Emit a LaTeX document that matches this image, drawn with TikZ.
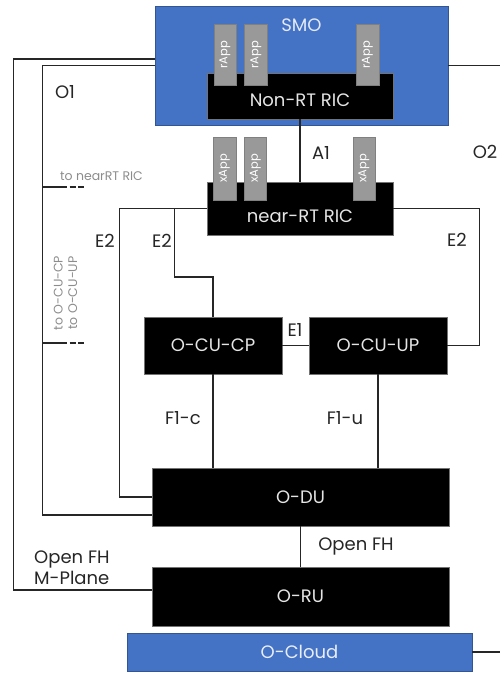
\documentclass[tikz,border=0pt]{standalone}
\usepackage{fontspec}
\setmainfont{Poppins}
\usetikzlibrary{positioning,calc}
\definecolor{oranblue}{HTML}{4472C4}

\begin{document}
\begin{tikzpicture}[x=1pt,y=-1pt,
  blk/.style ={rectangle,draw=black!55,fill=black,text=white!90!black,
               font=\fontsize{18}{21}\selectfont},
  bluebox/.style={rectangle,draw=oranblue!75!black,fill=oranblue,text=white!88!oranblue,
               font=\fontsize{18}{21}\selectfont},
  boxtxt/.style={text=white!90!black,font=\fontsize{18}{21}\selectfont,inner sep=0pt},
  app/.style ={rectangle,draw=black!50,fill=black!40,text=white,inner sep=0pt,
               minimum width=22.5pt,minimum height=61pt,font=\fontsize{11.5}{13}\selectfont},
  lbl/.style ={text=black!85,font=\fontsize{18}{21}\selectfont,inner sep=0pt},
  note/.style={text=black!45,font=\fontsize{12.5}{14.5}\selectfont,inner sep=0pt},
  ln/.style  ={line width=1.3pt,black!85},
  stub/.style={ln,dash pattern=on 24pt off 2.5pt on 6pt off 2.5pt on 6pt}
]
\useasboundingbox (0,0) rectangle (500,673);

\node[bluebox,minimum width=293pt,minimum height=119pt,
      label={[boxtxt,text=white!85!oranblue,yshift=40.5pt]center:SMO}] (smo) at (301.5,65.5) {};
\node[blk,minimum width=186pt,minimum height=46pt,
      label={[boxtxt,yshift=-4pt]center:Non-RT RIC}] (nrt) at (300,96) {};
\node[app] (rapp1) at (225,54.5) {\rotatebox{90}{rApp}};
\node[app,right=8pt of rapp1] (rapp2) {\rotatebox{90}{rApp}};
\node[app] (rapp3) at (367.5,54.5) {\rotatebox{90}{rApp}};

\node[blk,minimum width=186pt,minimum height=53pt,
      label={[boxtxt,yshift=-8pt]center:near-RT RIC}] (nearrt) at (300,208.5) {};
\node[app,minimum height=63pt] (xapp1) at (224.5,168.5) {\rotatebox{90}{xApp}};
\node[app,minimum height=63pt,right=8pt of xapp1] (xapp2) {\rotatebox{90}{xApp}};
\node[app,minimum height=63pt] (xapp3) at (364,168.5) {\rotatebox{90}{xApp}};

\node[blk,minimum width=138pt,minimum height=57pt] (ocp) at (213,345.5) {O-CU-CP};
\node[blk,minimum width=138pt,minimum height=57pt] (oup) at (378,345.5) {O-CU-UP};
\node[blk,minimum width=297pt,minimum height=58pt] (odu) at (300.5,497) {O-DU};
\node[blk,minimum width=297pt,minimum height=59pt] (oru) at (300.5,596.5) {O-RU};
\node[bluebox,minimum width=345pt,minimum height=38pt] (ocl) at (299.5,652) {O-Cloud};

\coordinate (o2end) at (500,65.5);
\coordinate (oclend) at (500,652);
\coordinate (tonrt) at (43,187);
\coordinate (tocu) at (43,343);

\draw[ln](nrt.south)--(nearrt.north);
\draw[ln](smo.east)--(o2end);
\draw[ln]([yshift=6.5pt]smo.west) -| ([xshift=-138pt,yshift=6.5pt]oru.west) -- ([yshift=6.5pt]oru.west);
\draw[ln](smo.west) -| ([xshift=-109pt,yshift=-18pt]odu.west) -- ([yshift=-18pt]odu.west);
\draw[stub](tonrt)--++(41,0);
\draw[stub](tocu)--++(41,0);
\draw[ln](nearrt.west) -| ([xshift=-32pt]odu.west) -- (odu.west);
\draw[ln]([xshift=-32pt]nearrt.west) -- ++(0,68.5) -| (ocp.north);
\draw[ln](nearrt.east) -| ([xshift=32pt]oup.east) -- (oup.east);
\draw[ln](ocp)--(oup);
\draw[ln](ocp.south)--(ocp.south|-odu.north);
\draw[ln](oup.south)--(oup.south|-odu.north);
\draw[ln](odu.south)--(oru.north);
\draw[ln](ocl.east)--(oclend);

\node[lbl] (lo1) at (65,92) {O1};
\node[lbl] (lo2) at (485,152) {O2};
\node[lbl] (la1) at (321,153) {A1};
\node[lbl] (le2a) at (105,241) {E2};
\node[lbl] (le2b) at (162,241) {E2};
\node[lbl] (le2c) at (457,240) {E2};
\node[lbl] (le1) at (295,330) {E1};
\node[lbl] (lf1c) at (183,418) {F1-c};
\node[lbl] (lf1u) at (345,418) {F1-u};
\node[lbl] (lfh) at (356,546) {Open FH};
\node[lbl,anchor=west,align=left] (lmp) at (34,568) {Open FH\\M-Plane};
\node[note] (nnrt) at (101.5,176) {to nearRT RIC};
\node[note,rotate=90,align=center] (ncu) at (65.5,293) {to O-CU-CP\\to O-CU-UP};
\end{tikzpicture}
\end{document}
